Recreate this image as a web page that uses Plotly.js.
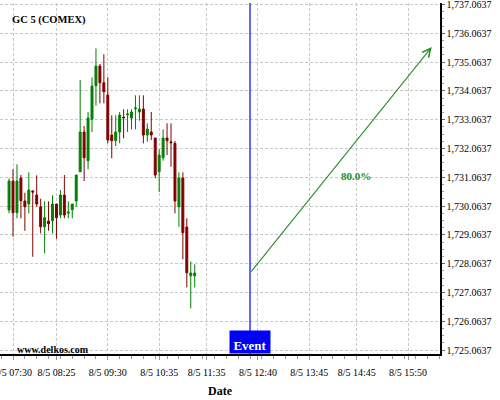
<!DOCTYPE html>
<html>
<head>
<meta charset="utf-8">
<script src="https://cdn.plot.ly/plotly-3.0.1.min.js"></script>
<style>html,body{margin:0;padding:0;background:#fff;}#chart{width:500px;height:400px;}</style>
</head>
<body>
<div id="chart"></div>
<script>
// ---- data ----
const day = '2021-08-05 ';
const candleTimes = ['07:25','07:30','07:35','07:40','07:45','07:50','07:55','08:00','08:05','08:10','08:15','08:20',
  '08:25','08:30','08:35','08:40','08:45','08:50','08:55','09:00','09:05','09:10','09:15','09:20',
  '09:25','09:30','09:35','09:40','09:45','09:50','09:55','10:00','10:05','10:10','10:15','10:20',
  '10:25','10:30','10:35','10:40','10:45','10:50','10:55','11:00','11:05','11:10','11:15','11:20'];
const openVals = [1729.927,1730.934,1729.834,1731.038,1730.240,1730.136,1730.587,1730.448,1730.042,1729.347,1729.545,1729.556,
  1730.136,1729.754,1730.448,1729.823,1729.938,1730.240,1731.257,1732.636,1731.639,1733.077,1734.243,1734.927,
  1734.347,1733.920,1732.531,1732.334,1732.636,1733.156,1733.236,1733.122,1733.445,1733.330,1733.434,1732.531,
  1732.636,1732.427,1731.257,1731.743,1732.427,1732.299,1732.243,1730.042,1731.038,1729.337,1727.646,1727.646];
const highVals = [1731.028,1731.341,1731.514,1731.143,1730.528,1731.236,1730.622,1731.132,1730.320,1730.229,1730.229,1730.438,
  1730.136,1730.622,1731.143,1730.229,1730.136,1731.143,1734.441,1732.844,1733.330,1734.535,1735.542,1734.997,
  1735.334,1734.535,1733.216,1733.216,1733.330,1733.424,1733.424,1733.424,1733.910,1733.910,1733.910,1732.938,
  1733.330,1732.427,1732.035,1732.729,1732.938,1732.938,1732.323,1731.236,1731.236,1729.639,1728.146,1728.042];
const lowVals = [1729.813,1729.000,1729.639,1729.639,1729.209,1729.813,1728.306,1730.042,1729.118,1728.424,1729.209,1729.118,
  1728.931,1729.639,1729.639,1729.639,1729.639,1730.042,1731.257,1730.934,1731.341,1732.636,1733.549,1733.632,
  1733.632,1732.243,1731.722,1732.150,1732.243,1732.417,1732.636,1732.729,1732.729,1733.028,1732.243,1732.299,
  1732.358,1731.028,1730.552,1731.639,1731.837,1731.431,1729.813,1729.347,1728.216,1727.243,1726.514,1727.243];
const closeVals = [1730.934,1729.834,1730.934,1730.250,1730.042,1730.622,1730.552,1730.136,1729.347,1729.660,1729.452,1730.136,
  1729.660,1730.448,1729.754,1729.858,1730.136,1731.143,1732.636,1731.743,1733.122,1734.233,1734.927,1734.347,
  1734.035,1732.358,1732.334,1732.636,1733.226,1733.132,1733.261,1733.330,1733.469,1733.434,1732.531,1732.740,
  1732.531,1731.143,1731.837,1732.427,1732.334,1732.264,1730.240,1731.038,1729.139,1727.750,1727.740,1727.740];

const xTickTimes = ['07:30','08:25','09:30','10:35','11:35','12:40','13:45','14:45','15:50'];
const xTickLabels = ['8/5 07:30','8/5 08:25','8/5 09:30','8/5 10:35','8/5 11:35','8/5 12:40','8/5 13:45','8/5 14:45','8/5 15:50'];
const yTickVals = [1725.0637,1726.0637,1727.0637,1728.0637,1729.0637,1730.0637,1731.0637,1732.0637,1733.0637,1734.0637,1735.0637,1736.0637,1737.0637];

const eventTime = '12:30';
const arrowStart = {time: '12:30', price: 1727.74};
const arrowEnd = {time: '16:20', price: 1735.587};
const probLabel = '80.0%';
const probPos = {time: '14:44', price: 1731.108};
const symbolLabel = 'GC 5 (COMEX)';
const siteLabel = 'www.delkos.com';

// ---- chart ----
const serif = 'Liberation Serif, Times New Roman, serif';
const green = '#008000', red = '#800000';

const trace = {
  type: 'candlestick',
  x: candleTimes.map(t => day + t),
  open: openVals, high: highVals, low: lowVals, close: closeVals,
  increasing: {line: {color: green, width: 1}, fillcolor: green},
  decreasing: {line: {color: red, width: 1}, fillcolor: red},
  whiskerwidth: 0,
  showlegend: false,
  hoverinfo: 'skip'
};

const layout = {
  width: 500, height: 400,
  margin: {l: 0, r: 60, t: 3, b: 46},
  paper_bgcolor: '#ffffff', plot_bgcolor: '#ffffff',
  showlegend: false,
  xaxis: {
    type: 'date',
    range: [day + '07:13:32', day + '16:30:30'],
    rangeslider: {visible: false},
    tickvals: xTickTimes.map(t => day + t),
    ticktext: xTickLabels,
    tickfont: {family: serif, size: 10, color: '#000'},
    ticks: 'outside', ticklen: 4, tickcolor: '#999', tickwidth: 1,
    ticklabelstandoff: 4,
    ticklabeloverflow: 'allow',
    minor: {dtick: 15 * 60 * 1000, tick0: day + '07:30', ticks: 'outside', ticklen: 3, tickcolor: '#999', showgrid: false},
    showgrid: true, gridcolor: '#c8c8c8', griddash: '3px,2px', gridwidth: 1,
    showline: true, linecolor: '#000', linewidth: 1.5,
    zeroline: false,
    fixedrange: true,
    title: {text: '<b>Date</b>', font: {family: serif, size: 12, color: '#000'}, standoff: 10}
  },
  yaxis: {
    side: 'right',
    range: [1724.93, 1737.115],
    tickvals: yTickVals,
    tickformat: ',.4f',
    tickfont: {family: serif, size: 10, color: '#000'},
    ticks: 'outside', ticklen: 3, tickcolor: '#666', tickwidth: 1,
    ticklabeloverflow: 'allow',
    minor: {dtick: 0.25, tick0: 1725.0637, ticks: 'outside', ticklen: 2, tickcolor: '#999', showgrid: false},
    showgrid: true, gridcolor: '#c8c8c8', griddash: '3px,2px', gridwidth: 1,
    showline: true, linecolor: '#000', linewidth: 1.5,
    zeroline: false,
    fixedrange: true
  },
  shapes: [{
    type: 'line', xref: 'x', yref: 'paper',
    x0: day + eventTime, x1: day + eventTime, y0: 0, y1: 1,
    line: {color: '#0000ff', width: 1.2}
  }],
  annotations: [
    {
      x: day + arrowEnd.time, y: arrowEnd.price, xref: 'x', yref: 'y',
      ax: day + arrowStart.time, ay: arrowStart.price, axref: 'x', ayref: 'y',
      text: '', showarrow: true, arrowhead: 5, arrowsize: 1.5, arrowwidth: 1.1, arrowcolor: '#2a8f2a'
    },
    {
      x: day + probPos.time, y: probPos.price, xref: 'x', yref: 'y',
      text: '<b>' + probLabel + '</b>', showarrow: false,
      font: {family: serif, size: 11, color: '#228b22'}
    },
    {
      x: 10 / 440, y: (354 - 20) / 351, xref: 'paper', yref: 'paper',
      xanchor: 'left', yanchor: 'middle',
      text: '<b>' + symbolLabel + '</b>', showarrow: false,
      font: {family: serif, size: 10.5, color: '#000'}
    },
    {
      x: 15 / 440, y: 5 / 351, xref: 'paper', yref: 'paper',
      xanchor: 'left', yanchor: 'middle',
      text: '<b>' + siteLabel + '</b>', showarrow: false,
      font: {family: serif, size: 10, color: '#000'}
    },
    {
      x: day + eventTime, y: 0, xref: 'x', yref: 'paper',
      xanchor: 'center', yanchor: 'bottom',
      text: '<b>Event</b>', showarrow: false,
      bgcolor: '#0000ff', width: 40, height: 22, valign: 'bottom', borderpad: 0,
      font: {family: serif, size: 13, color: '#ffffff'}
    }
  ]
};

Plotly.newPlot('chart', [trace], layout, {staticPlot: true, displayModeBar: false});
</script>
</body>
</html>
